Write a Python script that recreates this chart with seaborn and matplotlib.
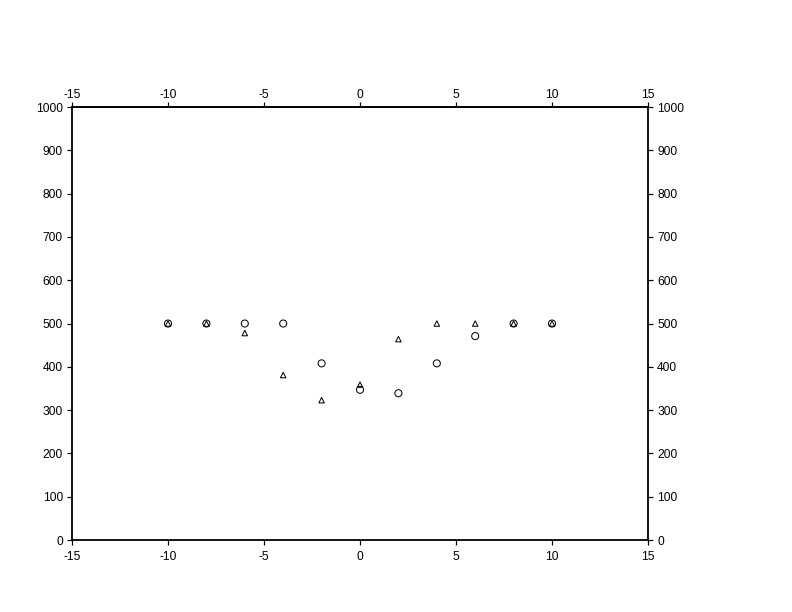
import numpy as np
import pandas as pd
import seaborn as sns
import matplotlib.pyplot as plt

sns.set_theme(style="ticks")
plt.rcParams['font.family'] = ['Liberation Sans', 'DejaVu Sans']
plt.rcParams['axes.unicode_minus'] = False

# Datos
x_vals = [-10, -8, -6, -4, -2, 0, 2, 4, 6, 8, 10]
circle_y = [500, 500, 500, 500, 408, 347, 339, 408, 471, 500, 500]
triangle_y = [500, 500, 478, 381, 323, 359, 464, 500, 500, 500, 500]

circles = pd.DataFrame({"x": x_vals, "y": circle_y})
triangles = pd.DataFrame({"x": x_vals, "y": triangle_y})

fig = plt.figure(figsize=(11, 8.5), dpi=72)
ax = fig.add_axes([0.0909, 0.1176, 0.7273, 0.7075])

sns.scatterplot(data=circles, x="x", y="y", marker="o", s=50,
                facecolors="none", edgecolor="black", linewidth=1.0,
                legend=False, ax=ax)
sns.scatterplot(data=triangles, x="x", y="y", marker="^", s=30,
                facecolors="none", edgecolor="black", linewidth=1.0,
                legend=False, ax=ax)
# marcadores huecos
for coll in ax.collections:
    coll.set_facecolor("none")
    coll.set_edgecolor("black")

ax.set_xlim(-15, 15)
ax.set_ylim(0, 1000)
ax.set_xticks(np.arange(-15, 16, 5))
ax.set_yticks(np.arange(0, 1001, 100))
ax.set_xlabel("")
ax.set_ylabel("")

for side in ["left", "right", "top", "bottom"]:
    ax.spines[side].set_visible(True)
    ax.spines[side].set_linewidth(1.8)
    ax.spines[side].set_color("black")

ax.tick_params(axis="both", direction="out", length=5, width=1.2,
               labelsize=12, colors="black", pad=4,
               top=False, right=True, labeltop=False, labelright=True)
ax.tick_params(axis="x", pad=6)

# eje superior con su propio espaciado
top = ax.secondary_xaxis("top")
top.set_xticks(np.arange(-15, 16, 5))
top.spines["top"].set_linewidth(1.8)
top.tick_params(direction="out", length=5, width=1.2, labelsize=12,
                colors="black", pad=1)

fig.savefig("out.png", dpi=72, facecolor="white")
